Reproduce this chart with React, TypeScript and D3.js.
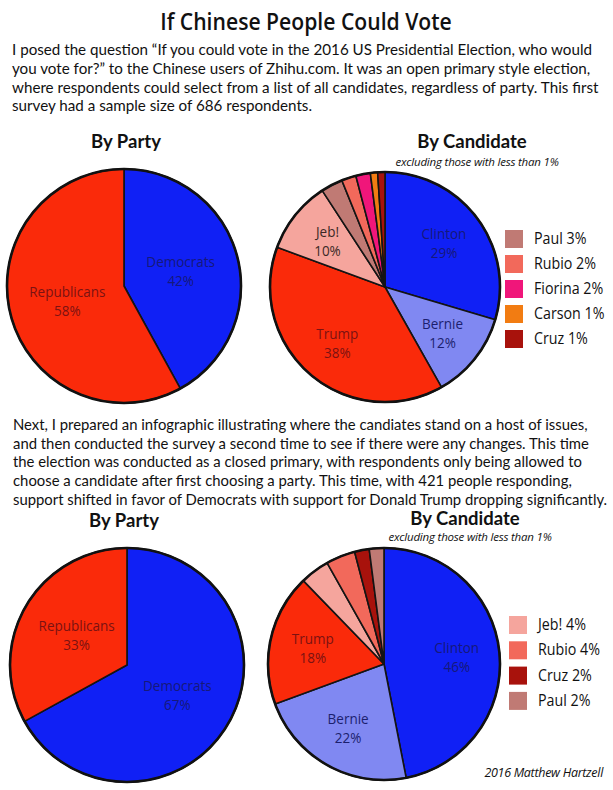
import React, { useLayoutEffect, useRef, useState } from "react";
import * as d3 from "d3";

const W = 613;
const H = 790;

const titleText = "If Chinese People Could Vote";
const para1 = [
  "I posed the question \u201CIf you could vote in the 2016 US Presidential Election, who would",
  "you vote for?\u201D to the Chinese users of Zhihu.com. It was an open primary style election,",
  "where respondents could select from a list of all candidates, regardless of party. This first",
  "survey had a sample size of 686 respondents.",
];
const para2 = [
  "Next, I prepared an infographic illustrating where the candiates stand on a host of issues,",
  "and then conducted the survey a second time to see if there were any changes. This time",
  "the election was conducted as a closed primary, with respondents only being allowed to",
  "choose a candidate after first choosing a party. This time, with 421 people responding,",
  "support shifted in favor of Democrats with support for Donald Trump dropping significantly.",
];

const party1Names = ["Democrats", "Republicans"];
const party1Values = [42, 58];
const cand1Names = ["Clinton", "Bernie", "Trump", "Jeb!", "Paul", "Rubio", "Fiorina", "Carson", "Cruz"];
const cand1Values = [29, 12, 38, 10, 3, 2, 2, 1, 1];
const cand1Labeled = ["Clinton", "Bernie", "Trump", "Jeb!"];

const party2Names = ["Democrats", "Republicans"];
const party2Values = [67, 33];
const cand2Names = ["Clinton", "Bernie", "Trump", "Jeb!", "Rubio", "Cruz", "Paul"];
const cand2Values = [46, 22, 18, 4, 4, 2, 2];
const cand2Labeled = ["Clinton", "Bernie", "Trump"];

const credit = "2016 Matthew Hartzell";
const subtitle = "excluding those with less than 1%";

const fillColors: Record<string, string> = {
  Democrats: "#1020f5",
  Republicans: "#fa2a0a",
  Clinton: "#1020f5",
  Bernie: "#8088f2",
  Trump: "#fa2a0a",
  "Jeb!": "#f5a59d",
  Paul: "#c07a74",
  Rubio: "#f2695b",
  Fiorina: "#f0167a",
  Carson: "#f27c12",
  Cruz: "#a8120c",
};
const labelColors: Record<string, string> = {
  Democrats: "#16197a",
  Republicans: "#7a1212",
  Clinton: "#16197a",
  Bernie: "#1c1f6e",
  Trump: "#7a1212",
  "Jeb!": "#3a2826",
};

const BODY = "'Open Sans', 'Noto Sans', sans-serif";
const PARA = "Lato, 'Open Sans', sans-serif";
const HEAD = "Lato, 'Open Sans', sans-serif";

type Slice = { name: string; value: number };

function Pie({
  names, values, labeled, cx, cy, r, labelFrac,
}: {
  names: string[]; values: number[]; labeled: string[]; cx: number; cy: number; r: number; labelFrac: number;
}) {
  const data: Slice[] = names.map((n, i) => ({ name: n, value: values[i] }));
  const pie = d3.pie<Slice>().sort(null).value((d) => d.value);
  const arcs = pie(data);
  const arc = d3.arc<d3.PieArcDatum<Slice>>().innerRadius(0).outerRadius(r);
  const labelArc = d3.arc<d3.PieArcDatum<Slice>>().innerRadius(r * labelFrac).outerRadius(r * labelFrac);
  return (
    <g transform={`translate(${cx},${cy})`}>
      {arcs.map((a) => (
        <path key={a.data.name} d={arc(a) || ""} fill={fillColors[a.data.name]} stroke="#141414" strokeWidth={1.6} strokeLinejoin="round" />
      ))}
      <circle r={r} fill="none" stroke="#111" strokeWidth={2.6} />
      {arcs
        .filter((a) => labeled.includes(a.data.name))
        .map((a) => {
          const [lx, ly] = labelArc.centroid(a);
          const pct = Math.round(a.data.value) + "%";
          return (
            <g key={"l" + a.data.name} transform={`translate(${lx},${ly}) scale(0.9,1)`} fill={labelColors[a.data.name]} fontFamily={BODY} fontSize={15} textAnchor="middle">
              <text y={-4}>
                <tspan x={0} y={-4}>{a.data.name}</tspan>
                <tspan x={0} y={15}>{pct}</tspan>
              </text>
            </g>
          );
        })}
    </g>
  );
}

function Legend({
  names, values, labeled, x, y, step,
}: {
  names: string[]; values: number[]; labeled: string[]; x: number; y: number; step: number;
}) {
  const items = names.map((n, i) => ({ name: n, value: values[i] })).filter((d) => !labeled.includes(d.name));
  return (
    <g transform={`translate(${x},${y})`}>
      {items.map((d, i) => (
        <g key={d.name} transform={`translate(0,${i * step})`}>
          <rect x={0} y={-9} width={18} height={18} fill={fillColors[d.name]} />
          <g transform="translate(29,5) scale(0.92,1)">
            <text x={0} y={0} fontFamily={BODY} fontSize={15.5} fill="#111">
              {d.name} {d.value}%
            </text>
          </g>
        </g>
      ))}
    </g>
  );
}

function Para({ lines, x, y, lh, fitLine, fitWidth }: { lines: string[]; x: number; y: number; lh: number; fitLine: number; fitWidth: number }) {
  const ref = useRef<SVGTSpanElement | null>(null);
  const [sx, setSx] = useState(0.97);
  useLayoutEffect(() => {
    const measure = () => {
      if (ref.current) {
        const w = (ref.current as any).getComputedTextLength();
        if (w > 0) setSx(fitWidth / w);
      }
    };
    measure();
    if ((document as any).fonts && (document as any).fonts.ready) {
      (document as any).fonts.ready.then(measure);
    }
  }, [fitWidth]);
  return (
    <g transform={`translate(${x},${y}) scale(${sx},1)`} fontFamily={PARA} fontSize={15.4} fill="#111">
      <text x={0} y={0}>
        {lines.map((l, i) => (
          <tspan key={i} x={0} y={i * lh} ref={i === fitLine ? ref : undefined}>{l}</tspan>
        ))}
      </text>
    </g>
  );
}

function Heading({ title, sub, x, y, subDy }: { title: string; sub?: string; x: number; y: number; subDy?: number }) {
  return (
    <g>
      <text x={x} y={y} textAnchor="middle" fontFamily={HEAD} fontWeight={700} fontSize={18.5} fill="#111">{title}</text>
      {sub && (
        <text x={x + 5} y={y + (subDy || 19)} textAnchor="middle" fontFamily={BODY} fontStyle="italic" fontSize={11.5} fill="#111" style={{ letterSpacing: "-0.2px" }}>{sub}</text>
      )}
    </g>
  );
}

export default function App() {
  return (
    <svg width={W} height={H} viewBox={`0 0 ${W} ${H}`} style={{ position: "absolute", left: 0, top: 0, background: "#fff" }}>
      <rect width={W} height={H} fill="#fff" />
      <g transform={`translate(306,30) scale(0.92,1)`}>
        <text x={0} y={0} textAnchor="middle" fontFamily={BODY} fontWeight={600} fontSize={23} fill="#111">{titleText}</text>
      </g>
      <Para lines={para1} x={12} y={55} lh={18.8} fitLine={2} fitWidth={586} />
      <Heading title="By Party" x={126} y={148} />
      <Heading title="By Candidate" sub={subtitle} x={472} y={148} subDy={18} />
      <Pie names={party1Names} values={party1Values} labeled={party1Names} cx={124} cy={286} r={117} labelFrac={0.5} />
      <Pie names={cand1Names} values={cand1Values} labeled={cand1Labeled} cx={385} cy={287} r={115} labelFrac={0.64} />
      <Legend names={cand1Names} values={cand1Values} labeled={cand1Labeled} x={505} y={239} step={25} />

      <Para lines={para2} x={13} y={430} lh={18.7} fitLine={4} fitWidth={594} />
      <Heading title="By Party" x={124} y={527} />
      <Heading title="By Candidate" sub={subtitle} x={465} y={525} subDy={16} />
      <Pie names={party2Names} values={party2Values} labeled={party2Names} cx={127} cy={665} r={117} labelFrac={0.5} />
      <Pie names={cand2Names} values={cand2Values} labeled={cand2Labeled} cx={384} cy={664} r={116} labelFrac={0.63} />
      <Legend names={cand2Names} values={cand2Values} labeled={cand2Labeled} x={509} y={625} step={25.3} />

      <text x={603} y={777} textAnchor="end" fontFamily={BODY} fontStyle="italic" fontSize={12.5} fill="#111" style={{ letterSpacing: "-0.3px" }}>{credit}</text>
    </svg>
  );
}
